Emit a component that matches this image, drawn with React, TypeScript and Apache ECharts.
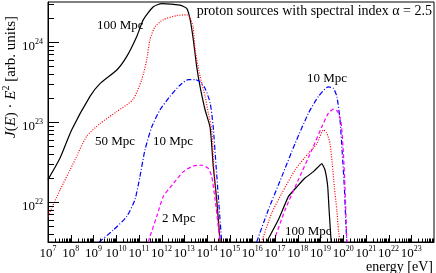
import React, { useEffect, useRef } from 'react';
import * as echarts from 'echarts';

// Axis ranges (log10 of energy [eV] and of J(E)·E^2 [arb. units])
const X_MIN = 7;
const X_MAX = 24;
const Y_MIN = 21.5;
const Y_MAX = 24.5;

// log10(E) / log10(J·E^2)
// 100 Mpc
const e100Low = [7.0, 7.53, 8.04, 8.85, 9.29, 10.03, 10.47, 10.91, 11.2, 11.64, 12.01, 12.81, 13.11, 13.26, 13.4, 13.55, 13.7, 13.92, 14.14, 14.28, 14.43, 14.58];
const j100Low = [22.28, 22.55, 22.9, 23.32, 23.48, 23.65, 23.82, 24.07, 24.28, 24.44, 24.48, 24.46, 24.42, 24.28, 24.03, 23.69, 23.44, 23.15, 22.93, 22.44, 22.03, 21.5];
const e100High = [16.63, 17.15, 17.59, 17.96, 18.32, 18.69, 19.06, 19.2, 19.32, 19.38, 19.47];
const j100High = [21.5, 21.78, 22.07, 22.19, 22.3, 22.38, 22.48, 22.4, 22.19, 21.9, 21.5];
// 50 Mpc
const e50Low = [7.0, 7.53, 8.11, 8.7, 9.29, 10.03, 10.74, 11.13, 11.35, 11.49, 11.71, 12.08, 12.67, 13.11, 13.26, 13.39, 13.48, 13.7, 13.92, 14.06, 14.21, 14.31, 14.44, 14.58];
const j50Low = [21.82, 22.15, 22.48, 22.82, 22.98, 23.13, 23.28, 23.53, 23.78, 24.03, 24.19, 24.28, 24.33, 24.34, 24.3, 24.19, 23.9, 23.57, 23.32, 23.11, 22.9, 22.4, 21.96, 21.5];
const e50High = [16.41, 16.85, 17.3, 17.88, 18.47, 18.84, 19.13, 19.28, 19.42, 19.52, 19.61, 19.72, 19.79, 19.86];
const j50High = [21.5, 21.86, 22.11, 22.4, 22.61, 22.73, 22.9, 22.86, 22.73, 22.48, 22.19, 21.9, 21.65, 21.5];
// 10 Mpc
const e10Low = [9.25, 9.88, 10.47, 10.83, 11.05, 11.27, 11.57, 11.93, 12.37, 12.81, 13.18, 13.48, 13.7, 13.92, 14.14, 14.27, 14.4, 14.53, 14.65];
const j10Low = [21.5, 21.65, 21.82, 22.03, 22.32, 22.65, 22.94, 23.15, 23.32, 23.46, 23.53, 23.53, 23.5, 23.42, 23.24, 22.96, 22.46, 21.96, 21.5];
const e10High = [16.19, 16.7, 17.3, 17.88, 18.47, 18.91, 19.35, 19.57, 19.72, 19.86, 19.96, 20.05, 20.11, 20.16];
const j10High = [21.5, 21.9, 22.32, 22.73, 23.11, 23.32, 23.44, 23.42, 23.32, 23.03, 22.61, 22.19, 21.78, 21.5];
// 2 Mpc
const e2Low = [11.42, 11.49, 11.79, 12.08, 12.52, 12.96, 13.4, 13.77, 14.06, 14.21, 14.36, 14.5, 14.58];
const j2Low = [21.5, 21.57, 21.82, 22.07, 22.23, 22.38, 22.45, 22.46, 22.42, 22.32, 22.03, 21.69, 21.5];
const e2High = [16.93, 17.44, 18.03, 18.62, 19.06, 19.35, 19.57, 19.76, 19.91, 20.01, 20.08, 20.16];
const j2High = [21.5, 21.9, 22.28, 22.65, 22.94, 23.11, 23.16, 23.13, 22.99, 22.61, 22.19, 21.5];

const TITLE = 'proton sources with spectral index α = 2.5';
const X_TITLE = 'energy [eV]';

const FONT = '"Liberation Serif", "DejaVu Serif", serif';

const pairs = (xs: number[], ys: number[]) => xs.map((x, i) => [x, ys[i]]);

const line = (xs: number[], ys: number[], color: string, type: any, smooth: number) => ({
  type: 'line',
  data: pairs(xs, ys),
  symbol: 'none',
  showSymbol: false,
  smooth,
  clip: true,
  silent: true,
  z: 3,
  lineStyle: { color, width: 1.2, type },
});

// minor/major tick positions on log axes
const xTicks: number[][] = [];
for (let n = X_MIN; n < X_MAX; n++) {
  for (let k = 1; k <= 9; k++) xTicks.push([n + Math.log10(k), Y_MIN, k === 1 ? 1 : 0]);
}
const yTicks: number[][] = [];
for (let n = 21; n <= 24; n++) {
  for (let k = 1; k <= 9; k++) {
    const v = n + Math.log10(k);
    if (v > Y_MIN && v < Y_MAX) yTicks.push([X_MIN, v, k === 1 ? 1 : 0]);
  }
}

const rich = {
  b: { fontFamily: FONT, fontSize: 13, color: '#000', lineHeight: 16 },
  s: { fontFamily: FONT, fontSize: 8, color: '#000', lineHeight: 8, verticalAlign: 'top' },
};

const label = (text: string, x: number, y: number, size = 13, align = 'left') => ({
  type: 'text',
  x,
  y,
  silent: true,
  style: {
    text,
    fill: '#000',
    font: `${size}px ${FONT}`,
    align,
    textAlign: align,
    verticalAlign: 'middle',
    textVerticalAlign: 'middle',
  },
});

export default function App() {
  const ref = useRef<HTMLDivElement>(null);
  useEffect(() => {
    const chart = echarts.init(ref.current!, null, { renderer: 'svg' });
    const option: any = {
      animation: false,
      grid: { left: 48, right: 2, top: 2, bottom: 31, show: true, borderColor: '#000', borderWidth: 1, backgroundColor: 'transparent' },
      xAxis: {
        type: 'value',
        min: X_MIN,
        max: X_MAX,
        interval: 1,
        axisLine: { show: true, lineStyle: { color: '#000', width: 1 } },
        axisTick: { show: false },
        splitLine: { show: false },
        axisLabel: {
          margin: 2,
          formatter: (v: number) => (v >= X_MAX ? '' : `{b|10}{s|${v}}`),
          rich,
          showMaxLabel: false,
        },
      },
      yAxis: {
        type: 'value',
        min: Y_MIN,
        max: Y_MAX,
        interval: 0.5,
        axisLine: { show: true, lineStyle: { color: '#000', width: 1 } },
        axisTick: { show: false },
        splitLine: { show: false },
        axisLabel: {
          margin: 5,
          padding: [6, 0, 0, 0],
          formatter: (v: number) => (Number.isInteger(v) ? `{b|10}{s|${v}}` : ''),
          rich,
        },
      },
      series: [
        line(e100Low, j100Low, '#000000', 'solid', 0.2),
        line(e100High, j100High, '#000000', 'solid', 0.1),
        line(e50Low, j50Low, '#ff0000', [1, 1.5], 0.2),
        line(e50High, j50High, '#ff0000', [1, 1.5], 0.2),
        line(e10Low, j10Low, '#0000ff', [5, 2, 1, 2], 0.2),
        line(e10High, j10High, '#0000ff', [5, 2, 1, 2], 0.2),
        line(e2Low, j2Low, '#ff00ff', [4, 2.5], 0.2),
        line(e2High, j2High, '#ff00ff', [4, 2.5], 0.2),
        {
          type: 'custom',
          silent: true,
          z: 5,
          data: xTicks,
          renderItem: (_p: any, api: any) => {
            const p = api.coord([api.value(0), api.value(1)]);
            const len = api.value(2) ? 7 : 3.5;
            const x = Math.round(p[0]) + 0.5;
            return { type: 'line', shape: { x1: x, y1: p[1], x2: x, y2: p[1] - len }, style: { stroke: '#000', lineWidth: 1 } };
          },
        },
        {
          type: 'custom',
          silent: true,
          z: 5,
          data: yTicks,
          renderItem: (_p: any, api: any) => {
            const p = api.coord([api.value(0), api.value(1)]);
            const len = api.value(2) ? 11 : 6;
            const y = Math.round(p[1]) + 0.5;
            return { type: 'line', shape: { x1: p[0], y1: y, x2: p[0] + len, y2: y }, style: { stroke: '#000', lineWidth: 1 } };
          },
        },
      ],
      graphic: [
        label(TITLE, 432, 10, 14, 'right'),
        label('100 Mpc', 97, 24),
        label('50 Mpc', 95, 140),
        label('10 Mpc', 153, 140),
        label('2 Mpc', 162, 217),
        label('10 Mpc', 307, 77),
        label('100 Mpc', 285, 230),
        label(X_TITLE, 433, 266, 14, 'right'),
        {
          type: 'text',
          x: 10,
          y: 138,
          rotation: Math.PI / 2,
          silent: true,
          style: {
            text: '{i|J}{n|(}{i|E}{n|) · }{i|E}{s|2}{n| [arb. units]}',
            fill: '#000',
            font: `15px ${FONT}`,
            align: 'left',
            textAlign: 'left',
            verticalAlign: 'middle',
            textVerticalAlign: 'middle',
            rich: {
              i: { fontFamily: FONT, fontSize: 15, fontStyle: 'italic', fill: '#000', lineHeight: 20 },
              n: { fontFamily: FONT, fontSize: 15, fill: '#000', lineHeight: 20 },
              s: { fontFamily: FONT, fontSize: 10, fill: '#000', lineHeight: 10, verticalAlign: 'top' },
            },
          },
        },
      ],
    };
    chart.setOption(option);
    return () => chart.dispose();
  }, []);
  return <div ref={ref} style={{ position: 'fixed', left: 0, top: 0, width: 436, height: 273 }} />;
}
